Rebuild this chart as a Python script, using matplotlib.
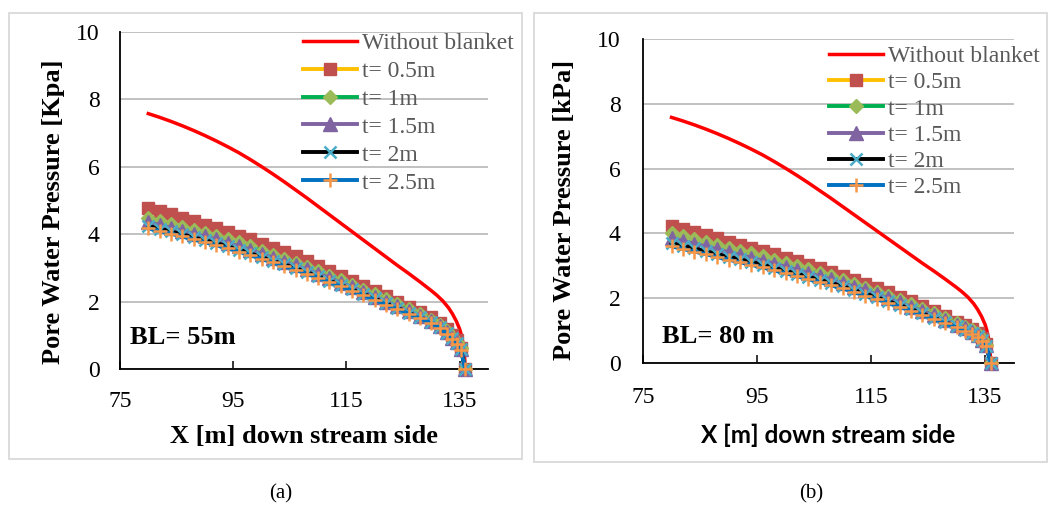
import matplotlib.pyplot as plt
from matplotlib.patches import Rectangle

# x positions of the blanket series [m]
x_pos = [80, 82, 84, 86, 88, 90, 92, 94, 96, 98, 100, 102, 104, 106, 108, 110,
         112, 114, 116, 118, 120, 122, 124, 126, 128, 130, 131.5, 132.7, 133.7,
         134.5, 135.2, 136]

# without blanket (same in both panels)
red_x = [80, 82, 84, 86, 88, 90, 92, 94, 96, 98, 100, 102, 104, 106, 108, 110,
         112, 114, 116, 118, 120, 122, 124, 126, 128, 129, 130, 131, 132, 133,
         133.7, 134.4, 135, 135.3, 135.6, 135.85, 136]
red_y = [7.58, 7.47, 7.35, 7.22, 7.08, 6.93, 6.77, 6.60, 6.42, 6.22, 6.01, 5.79,
         5.56, 5.32, 5.08, 4.83, 4.58, 4.33, 4.08, 3.83, 3.58, 3.33, 3.08, 2.84,
         2.59, 2.46, 2.33, 2.19, 2.03, 1.83, 1.65, 1.43, 1.19, 1.01, 0.76, 0.40, 0.0]

# (a) BL = 55 m
a_t05 = [4.78, 4.69, 4.60, 4.50, 4.40, 4.29, 4.19, 4.08, 3.96, 3.85, 3.72, 3.60,
         3.47, 3.35, 3.22, 3.06, 2.92, 2.77, 2.62, 2.46, 2.31, 2.16, 2.01, 1.85,
         1.70, 1.54, 1.37, 1.19, 1.02, 0.86, 0.64, 0.0]
a_t1 = [4.48, 4.40, 4.31, 4.23, 4.14, 4.05, 3.96, 3.86, 3.76, 3.65, 3.52, 3.40,
        3.28, 3.16, 3.04, 2.91, 2.78, 2.64, 2.50, 2.36, 2.22, 2.07, 1.93, 1.78,
        1.63, 1.47, 1.31, 1.14, 0.97, 0.82, 0.63, 0.0]
a_t15 = [4.36, 4.28, 4.19, 4.11, 4.02, 3.94, 3.85, 3.75, 3.65, 3.55, 3.42, 3.31,
         3.19, 3.08, 2.96, 2.84, 2.71, 2.57, 2.44, 2.30, 2.15, 2.01, 1.87, 1.72,
         1.58, 1.43, 1.27, 1.11, 0.94, 0.80, 0.61, 0.0]
a_t2 = [4.25, 4.17, 4.09, 4.00, 3.91, 3.83, 3.74, 3.65, 3.55, 3.44, 3.33, 3.22,
        3.11, 3.00, 2.88, 2.76, 2.63, 2.50, 2.37, 2.24, 2.10, 1.96, 1.82, 1.68,
        1.54, 1.40, 1.24, 1.08, 0.92, 0.78, 0.60, 0.0]
a_t25 = [4.18, 4.10, 4.02, 3.94, 3.85, 3.77, 3.68, 3.59, 3.49, 3.39, 3.28, 3.17,
         3.06, 2.95, 2.84, 2.72, 2.59, 2.46, 2.33, 2.20, 2.06, 1.92, 1.79, 1.65,
         1.51, 1.37, 1.22, 1.06, 0.90, 0.76, 0.58, 0.0]

# (b) BL = 80 m
b_t05 = [4.23, 4.13, 4.04, 3.95, 3.85, 3.74, 3.65, 3.56, 3.46, 3.36, 3.25, 3.14,
         3.04, 2.93, 2.81, 2.69, 2.57, 2.44, 2.32, 2.19, 2.04, 1.90, 1.75, 1.60,
         1.44, 1.28, 1.16, 1.05, 0.93, 0.78, 0.59, 0.0]
b_t1 = [4.00, 3.91, 3.82, 3.74, 3.65, 3.56, 3.47, 3.38, 3.29, 3.19, 3.09, 2.99,
        2.89, 2.78, 2.67, 2.56, 2.44, 2.32, 2.20, 2.08, 1.95, 1.81, 1.67, 1.53,
        1.38, 1.23, 1.12, 1.01, 0.89, 0.75, 0.57, 0.0]
b_t15 = [3.85, 3.77, 3.68, 3.60, 3.51, 3.42, 3.33, 3.25, 3.16, 3.07, 2.97, 2.87,
         2.78, 2.68, 2.58, 2.47, 2.36, 2.24, 2.12, 2.00, 1.87, 1.74, 1.61, 1.47,
         1.32, 1.18, 1.07, 0.97, 0.86, 0.72, 0.55, 0.0]
b_t2 = [3.70, 3.62, 3.54, 3.45, 3.36, 3.28, 3.20, 3.12, 3.04, 2.94, 2.85, 2.76,
        2.66, 2.57, 2.47, 2.37, 2.26, 2.14, 2.03, 1.91, 1.79, 1.67, 1.53, 1.40,
        1.26, 1.13, 1.03, 0.93, 0.83, 0.70, 0.53, 0.0]
b_t25 = [3.60, 3.52, 3.44, 3.36, 3.27, 3.19, 3.11, 3.03, 2.95, 2.86, 2.77, 2.68,
         2.59, 2.50, 2.40, 2.30, 2.19, 2.08, 1.97, 1.86, 1.74, 1.62, 1.49, 1.36,
         1.22, 1.10, 1.00, 0.91, 0.81, 0.68, 0.52, 0.0]

labels = ["t= 0.5m", "t= 1m", "t= 1.5m", "t= 2m", "t= 2.5m"]
x_ticks = [75, 95, 115, 135]
y_ticks = [0, 2, 4, 6, 8, 10]

# line colour, marker, marker colour, marker size
styles = [("#FFC000", "s", "#C0504D", 9),
          ("#00B050", "D", "#9BBB59", 7.2),
          ("#8064A2", "^", "#8064A2", 9.5),
          ("#000000", "x", "#4BACC6", 9),
          ("#0070C0", "+", "#F79646", 10)]

serif = "Liberation Serif"
W, H = 1050, 507

fig = plt.figure(figsize=(W / 100, H / 100), dpi=100)


def px(x0, y0, x1, y1):
    # pixel box (top-left origin) -> figure fraction rect
    return [x0 / W, 1 - y1 / H, (x1 - x0) / W, (y1 - y0) / H]


# light grey frames around each panel
for (x0, y0, x1, y1) in [(9, 13, 522, 459), (533.5, 13, 1047, 461.5)]:
    r = px(x0, y0, x1, y1)
    fig.patches.append(Rectangle((r[0], r[1]), r[2], r[3], transform=fig.transFigure,
                                 fill=False, edgecolor="#d9d9d9", lw=1.3))


def draw_panel(rect, series, xpad, ypad, leg_xy, leg_space):
    ax = fig.add_axes(rect)
    ax.plot(red_x, red_y, color="#FF0000", lw=2.5, label="Without blanket", zorder=3)
    for vals, lab, (lc, mk, mc, ms) in zip(series, labels, styles):
        ax.plot(x_pos, vals, color=lc, lw=2.8, marker=mk, ms=ms, mfc=mc, mec=mc,
                mew=1.8 if mk in "x+" else 1, label=lab, clip_on=False, zorder=3)
    ax.set_xlim(75, 140)
    ax.set_ylim(0, 10)
    ax.set_xticks(x_ticks)
    ax.set_yticks(y_ticks)
    ax.grid(axis="y", color="#b0b0b0", lw=1.1, zorder=0)
    ax.set_axisbelow(True)
    for s in ["top", "right"]:
        ax.spines[s].set_visible(False)
    for s in ["left", "bottom"]:
        ax.spines[s].set_linewidth(1.3)
        ax.spines[s].set_zorder(2.5)
    ax.tick_params(axis="x", direction="in", length=5.5, width=1.1, pad=xpad)
    ax.tick_params(axis="y", length=0, pad=ypad)
    for t in ax.get_xticklabels() + ax.get_yticklabels():
        t.set_fontfamily(serif)
        t.set_fontsize(17)
    leg = ax.legend(loc="upper left", bbox_to_anchor=leg_xy, bbox_transform=fig.transFigure,
                    frameon=False, numpoints=1, handlelength=2.3, handletextpad=0.21,
                    borderpad=0, borderaxespad=0, labelspacing=leg_space,
                    prop={"family": serif, "size": 17})
    for t in leg.get_texts():
        t.set_color("#595959")
    return ax


ax1 = draw_panel(px(120, 32, 488, 369.3), [a_t05, a_t1, a_t15, a_t2, a_t25],
                 15.5, 14.5, (303 / W, 1 - 32.5 / H), 0.27)
ax2 = draw_panel(px(643, 39, 1013.6, 363), [b_t05, b_t1, b_t15, b_t2, b_t25],
                 17.5, 16, (829 / W, 1 - 45.5 / H), 0.2)

# axis titles
fig.text(53.5 / W, 1 - 212 / H, "Pore Water Pressure [Kpa]", rotation=90, ha="center",
         va="center", family=serif, weight="bold", size=19)
fig.text(564 / W, 1 - 209.5 / H, "Pore Water Pressure [kPa]", rotation=90, ha="center",
         va="center", family=serif, weight="bold", size=19)
fig.text(304 / W, 1 - 437 / H, "X [m] down stream side", ha="center", va="center",
         family=serif, weight="bold", size=19)
fig.text(828 / W, 1 - 435 / H, "X [m] down stream side", ha="center", va="center",
         family="Lato", weight="bold", size=17.5)

# blanket length notes
fig.text(130 / W, 1 - 337 / H, "BL= 55m", ha="left", va="center", family=serif,
         weight="bold", size=19)
fig.text(662 / W, 1 - 336.5 / H, "BL= 80 m", ha="left", va="center", family=serif,
         weight="bold", size=19)

# sub-figure captions
fig.text(281 / W, 1 - 494 / H, "(a)", ha="center", va="center", family=serif, size=15)
fig.text(811 / W, 1 - 494 / H, "(b)", ha="center", va="center", family=serif, size=15)

plt.savefig("out.png", dpi=100)
